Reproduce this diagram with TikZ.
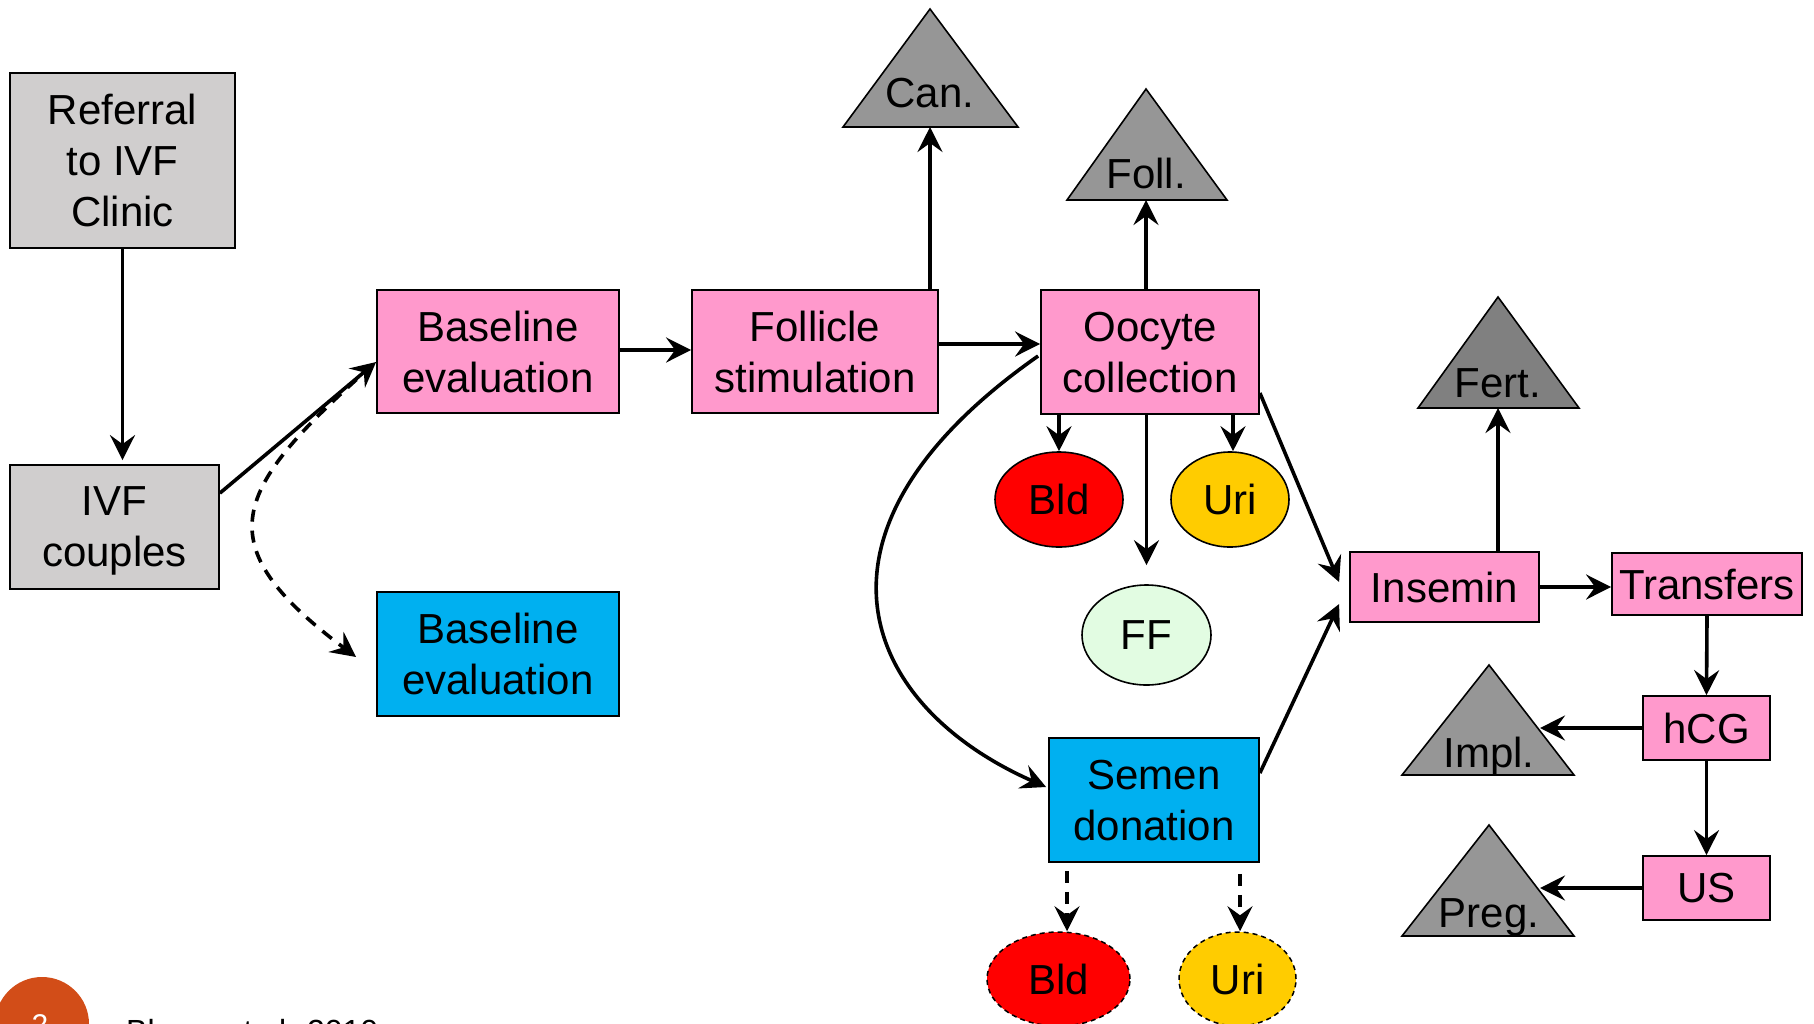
\documentclass[tikz,border=0pt]{standalone}
\usepackage{fontspec}
\setmainfont{Liberation Sans}
\usetikzlibrary{arrows.meta,shapes.geometric,calc}
\definecolor{boxgray}{HTML}{D0CECE}
\definecolor{boxpink}{HTML}{FF99CC}
\definecolor{boxblue}{HTML}{00B0F0}
\definecolor{trigray}{HTML}{969696}
\definecolor{trifert}{HTML}{808080}
\definecolor{bldred}{HTML}{FF0000}
\definecolor{uriyel}{HTML}{FFCC00}
\definecolor{ffgreen}{HTML}{E2FCE2}
\definecolor{slideorange}{HTML}{D24D18}
\begin{document}
\begin{tikzpicture}[x=1pt,y=-1pt,
  every node/.style={font=\fontsize{42}{51}\selectfont, inner sep=0pt},
  basebox/.style={draw=black, line width=1.8pt, rectangle, align=center, text depth=-2pt},
  gbox/.style={basebox, fill=boxgray},
  pbox/.style={basebox, fill=boxpink},
  bbox/.style={basebox, fill=boxblue},
  ell/.style={ellipse, draw=black, line width=1.6pt},
  dell/.style={ellipse, draw=black, line width=1.5pt, dash pattern=on 5pt off 4pt},
  tri/.style={draw=black, line width=1.6pt, line join=miter},
  arr/.style={line width=3.6pt, -{Stealth[length=25pt,width=25pt,inset=9pt]}},
  darr/.style={arr, dash pattern=on 12pt off 9pt}
]
\useasboundingbox (0,0) rectangle (1814,1023);
\clip (0,0) rectangle (1814,1023);
\fill[white] (0,0) rectangle (1814,1023);

% boxes
\node[gbox, minimum width=225, minimum height=175] (ref) at (122.5,160.5) {Referral\\to IVF\\Clinic};
\node[gbox, minimum width=209, minimum height=124] (ivf) at (114.5,527) {IVF\\couples};
\node[pbox, minimum width=242, minimum height=123] (baseP) at (498,351.5) {Baseline\\evaluation};
\node[bbox, minimum width=242, minimum height=124] (baseB) at (498,654) {Baseline\\evaluation};
\node[pbox, minimum width=246, minimum height=123] (foll) at (815,351.5) {Follicle\\stimulation};
\node[pbox, minimum width=218, minimum height=124] (ooc) at (1150,352) {Oocyte\\collection};
\node[bbox, minimum width=210, minimum height=124] (semen) at (1154,800) {Semen\\donation};
\node[pbox, minimum width=189, minimum height=70] (insem) at (1444.5,587) {Insemin};
\node[pbox, minimum width=190, minimum height=62] (trans) at (1707,584) {Transfers};
\node[pbox, minimum width=127, minimum height=64] (hcg) at (1706.5,728) {hCG};
\node[pbox, minimum width=127, minimum height=64] (us) at (1706.5,888) {US};

% ellipses
\node[ell, fill=bldred, minimum width=128, minimum height=95] (bld1) at (1059,499.5) {Bld};
\node[ell, fill=uriyel, minimum width=118, minimum height=95] (uri1) at (1230,499.5) {Uri};
\node[ell, fill=ffgreen, minimum width=129, minimum height=100] (ff) at (1146.5,635) {FF};
\node[dell, fill=bldred, minimum width=143, minimum height=94] (bld2) at (1058.5,979) {Bld};
\node[dell, fill=uriyel, minimum width=117, minimum height=94] (uri2) at (1237.5,979) {Uri};

% triangles
\filldraw[tri, fill=trigray] (843,127) -- (930,9) -- (1018,127) -- cycle;
\node[anchor=base] (can) at (930,107.5) {Can.};
\coordinate (canb) at (930,127);
\filldraw[tri, fill=trigray] (1067,200) -- (1146,89) -- (1227,200) -- cycle;
\node[anchor=base] (follt) at (1146,188.5) {Foll.};
\coordinate (follb) at (1146,200);
\filldraw[tri, fill=trifert] (1418,408) -- (1498,297) -- (1579,408) -- cycle;
\node[anchor=base] (fert) at (1498,397) {Fert.};
\coordinate (fertb) at (1498,408);
\filldraw[tri, fill=trigray] (1402,775) -- (1489,665) -- (1574,775) -- cycle;
\node[anchor=base] (impl) at (1489,767) {Impl.};
\coordinate (implp) at (1540,728);
\filldraw[tri, fill=trigray] (1402,936) -- (1489,825) -- (1574,936) -- cycle;
\node[anchor=base] (preg) at (1489,927) {Preg.};
\coordinate (pregp) at (1540,888);

% connectors
\draw[arr, shorten >=4pt] (ref.south) -- (ref.south |- ivf.north);
\draw[arr] ($(ivf.north east)+(0,29)$) -- ($(baseP.west)+(0,10.5)$);
\draw[darr] ($(baseP.west)+(-4,14)$) .. controls (232,490) and (204,543) .. ($(baseB.west)+(-20,3)$);
\draw[arr] ($(baseP.east)+(0,-1.5)$) -- ($(foll.west)+(0,-1.5)$);
\draw[arr] ($(foll.east)+(0,-7.5)$) -- ($(ooc.west)+(0,-8)$);
\draw[arr] (foll.north -| canb) -- (canb);
\draw[arr] (ooc.north -| follb) -- (follb);
\draw[arr] (ooc.south -| bld1.north) -- (bld1.north);
\draw[arr] ($(ooc.south -| uri1.north)+(3,0)$) -- ($(uri1.north)+(3,0)$);
\draw[arr, shorten >=19pt] (ooc.south -| ff.north) -- (ff.north);
\draw[arr] ($(ooc.west)+(-2,4)$) .. controls (787,532) and (862,706) .. ($(semen.west)+(-2,-13)$);
\draw[arr] ($(ooc.east)+(0,41)$) -- ($(insem.west)+(-10,-5)$);
\draw[arr] ($(semen.east)+(0,-27)$) -- ($(insem.west)+(-10,17)$);
\draw[arr] (insem.north -| fertb) -- (fertb);
\draw[arr] (insem.east) -- (insem.east -| trans.west);
\draw[arr] (trans.south) -- (hcg.north);
\draw[arr] (hcg.west) -- (implp);
\draw[arr] (hcg.south) -- (us.north);
\draw[arr] (us.west) -- (pregp);
\draw[darr] ($(semen.south)+(-87,8)$) -- ($(bld2.north)+(8.5,0)$);
\draw[darr] ($(semen.south)+(86,11)$) -- ($(uri2.north)+(2.5,0)$);

% footer
\node[circle, fill=slideorange, minimum size=94pt] (num) at (42,1024) {};
\node[anchor=base, text=white, font=\fontsize{30}{36}\selectfont] (numtxt) at (40,1035) {2};
\node[anchor=base west, font=\fontsize{32}{38}\selectfont] (cite) at (126,1042) {Bloom et al. 2010};
\end{tikzpicture}
\end{document}
